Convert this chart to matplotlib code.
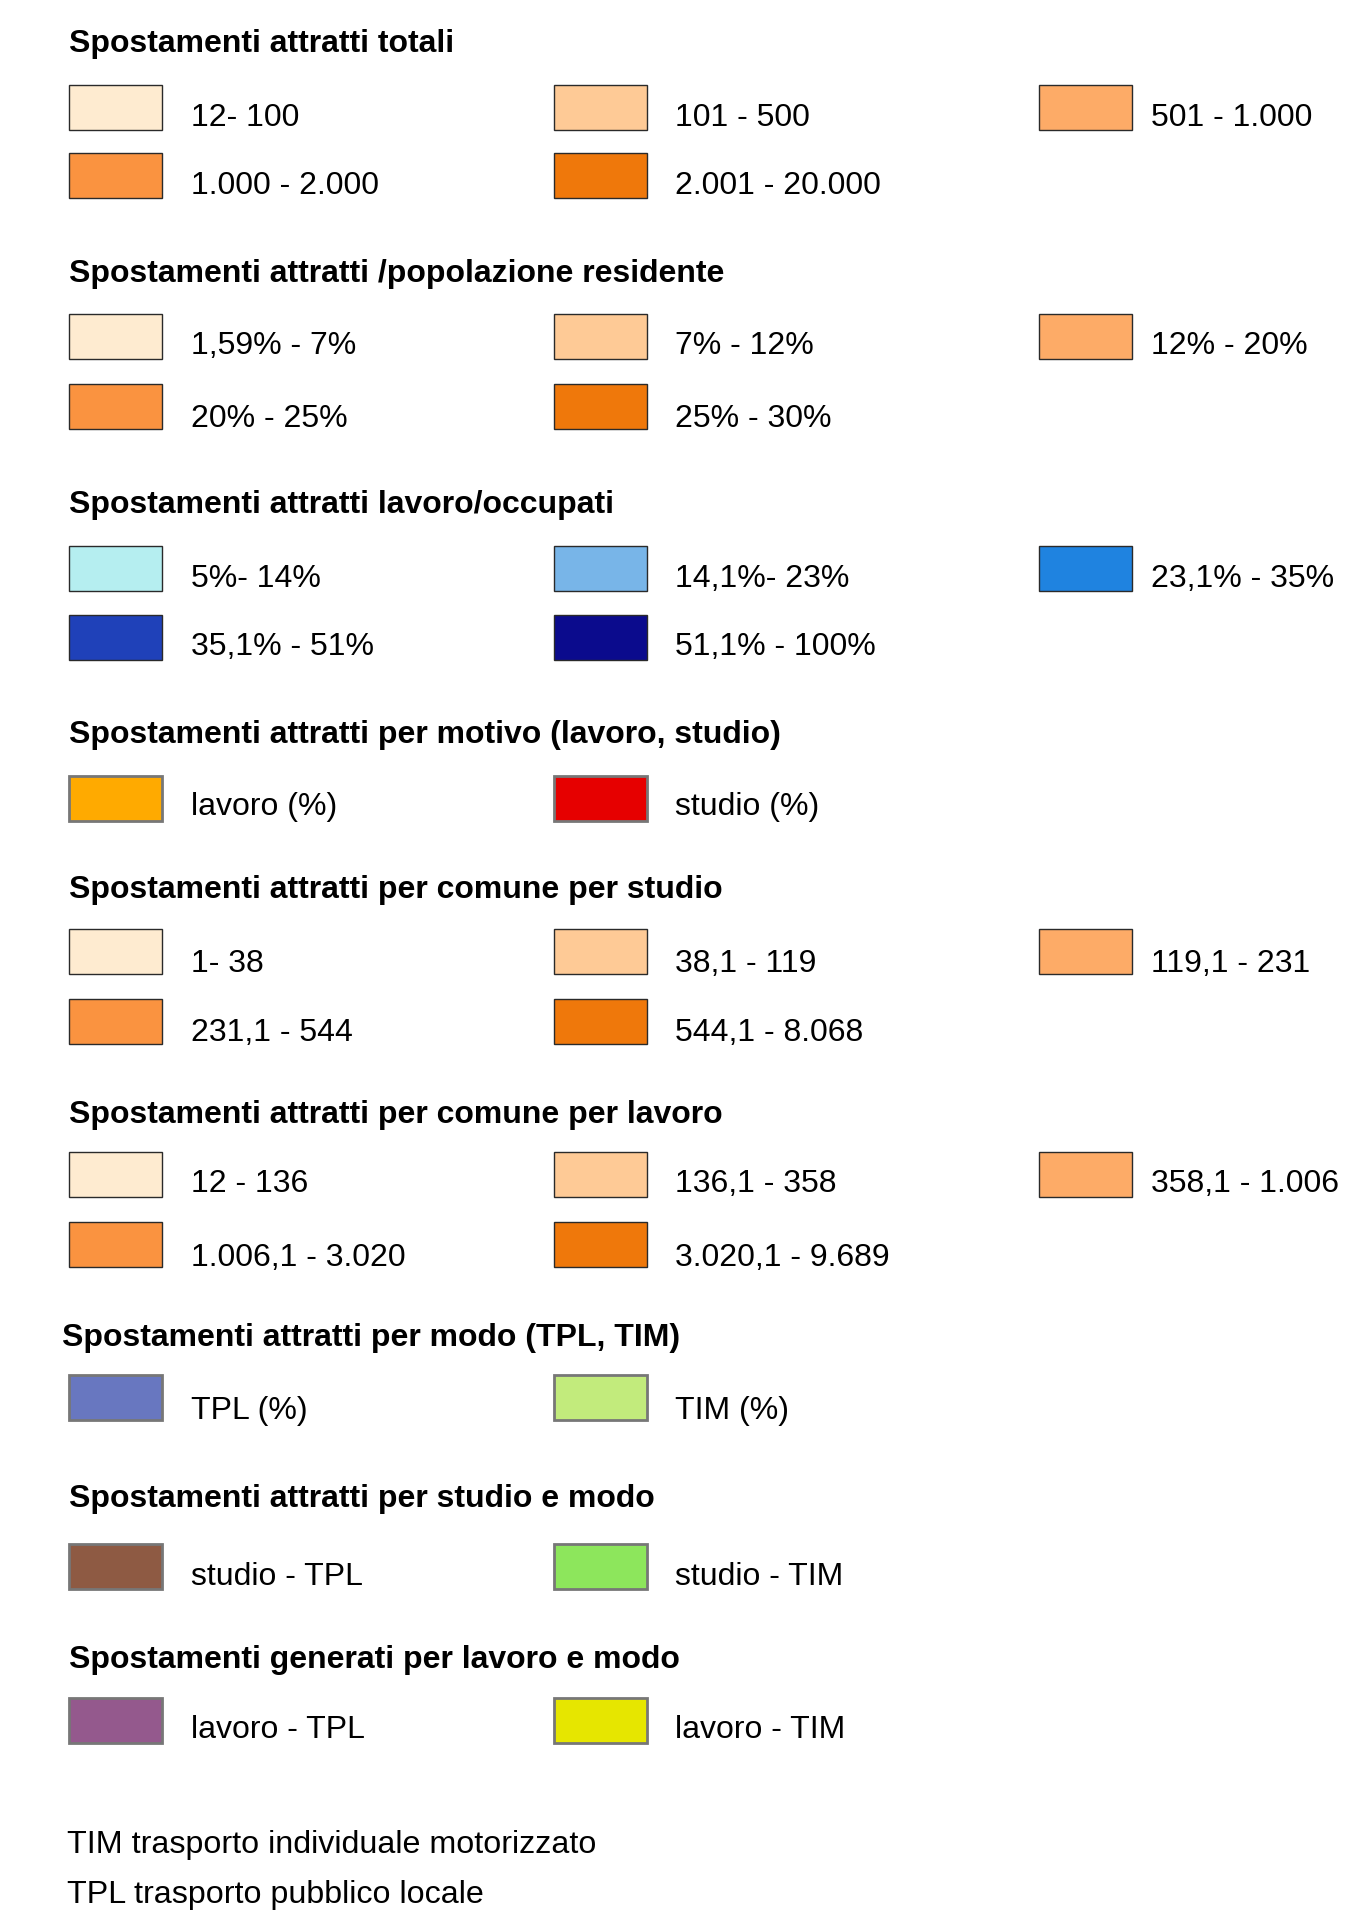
import matplotlib
matplotlib.use("Agg")
import matplotlib.pyplot as plt
from matplotlib.patches import Rectangle

plt.rcParams['font.family'] = ['Liberation Sans', 'DejaVu Sans']

# ---- data ----
titles = [
    "Spostamenti attratti totali",
    "Spostamenti attratti /popolazione residente",
    "Spostamenti attratti lavoro/occupati",
    "Spostamenti attratti per motivo (lavoro, studio)",
    "Spostamenti attratti per comune per studio",
    "Spostamenti attratti per comune per lavoro",
    "Spostamenti attratti per modo (TPL, TIM)",
    "Spostamenti attratti per studio e modo",
    "Spostamenti generati per lavoro e modo",
]
labels_totali = ["12- 100", "101 - 500", "501 - 1.000", "1.000 - 2.000", "2.001 - 20.000"]
labels_popolazione = ["1,59% - 7%", "7% - 12%", "12% - 20%", "20% - 25%", "25% - 30%"]
labels_occupati = ["5%- 14%", "14,1%- 23%", "23,1% - 35%", "35,1% - 51%", "51,1% - 100%"]
labels_motivo = ["lavoro (%)", "studio (%)"]
labels_studio = ["1- 38", "38,1 - 119", "119,1 - 231", "231,1 - 544", "544,1 - 8.068"]
labels_lavoro = ["12 - 136", "136,1 - 358", "358,1 - 1.006", "1.006,1 - 3.020", "3.020,1 - 9.689"]
labels_modo = ["TPL (%)", "TIM (%)"]
labels_studio_modo = ["studio - TPL", "studio - TIM"]
labels_lavoro_modo = ["lavoro - TPL", "lavoro - TIM"]

colors_orange = ["#FEEBD0", "#FECA96", "#FDAB67", "#FA9340", "#EF780B"]
colors_blue = ["#B5EEF0", "#78B5E8", "#1F83E0", "#1F41B9", "#0B0B8D"]
colors_motivo = ["#FFAA00", "#E60000"]
colors_modo = ["#6877C0", "#C2EB7C"]
colors_studio_modo = ["#8E5A43", "#8DE65C"]
colors_lavoro_modo = ["#94598D", "#E6E600"]

footnotes = ["TIM trasporto individuale motorizzato", "TPL trasporto pubblico locale"]

sections = [
    (titles[0], labels_totali, colors_orange, "thin"),
    (titles[1], labels_popolazione, colors_orange, "thin"),
    (titles[2], labels_occupati, colors_blue, "thin"),
    (titles[3], labels_motivo, colors_motivo, "thick"),
    (titles[4], labels_studio, colors_orange, "thin"),
    (titles[5], labels_lavoro, colors_orange, "thin"),
    (titles[6], labels_modo, colors_modo, "thick"),
    (titles[7], labels_studio_modo, colors_studio_modo, "thick"),
    (titles[8], labels_lavoro_modo, colors_lavoro_modo, "thick"),
]

# ---- layout (pixels) ----
W, H = 1352, 1910
fig = plt.figure(figsize=(W / 100, H / 100), dpi=100)
ax = fig.add_axes([0, 0, 1, 1])
ax.set_xlim(0, W)
ax.set_ylim(H, 0)
ax.axis("off")

title_baselines = [52, 282, 513, 743, 898, 1123, 1346, 1507, 1668]
title_x = [69, 69, 69, 69, 69, 69, 62, 69, 69]
row_tops = [[85, 153], [314, 384], [546, 615], [776], [929, 999], [1152, 1222], [1375], [1544], [1698]]
text_shift = [[1, 1], [0, 3], [1, 0], [-1], [3, 2], [0, 4], [4], [1], [0]]
col_box_x = [69, 554, 1039]
col_text_x = [191, 675, 1151]
box_w, box_h = 93, 45
fs_title = 23.0
fs = 23.0

for si, (title, labels, colors, edge) in enumerate(sections):
    ax.text(title_x[si], title_baselines[si], title, fontsize=fs_title, fontweight="bold",
            va="baseline", ha="left", color="black")
    for i, (lab, col) in enumerate(zip(labels, colors)):
        r, c = divmod(i, 3)
        top = row_tops[si][r]
        if edge == "thin":
            ec, lw = "#2a2a2a", 1.0
        else:
            ec, lw = "#777777", 2.0
        ax.add_patch(Rectangle((col_box_x[c], top), box_w, box_h, facecolor=col,
                               edgecolor=ec, linewidth=lw))
        ax.text(col_text_x[c], top + 40 + text_shift[si][r], lab, fontsize=fs,
                va="baseline", ha="left", color="black")

foot_y = [1853, 1903]
for y, t in zip(foot_y, footnotes):
    ax.text(67, y, t, fontsize=23.2, va="baseline", ha="left", color="black")

fig.savefig("out.png", dpi=100, facecolor="white")
